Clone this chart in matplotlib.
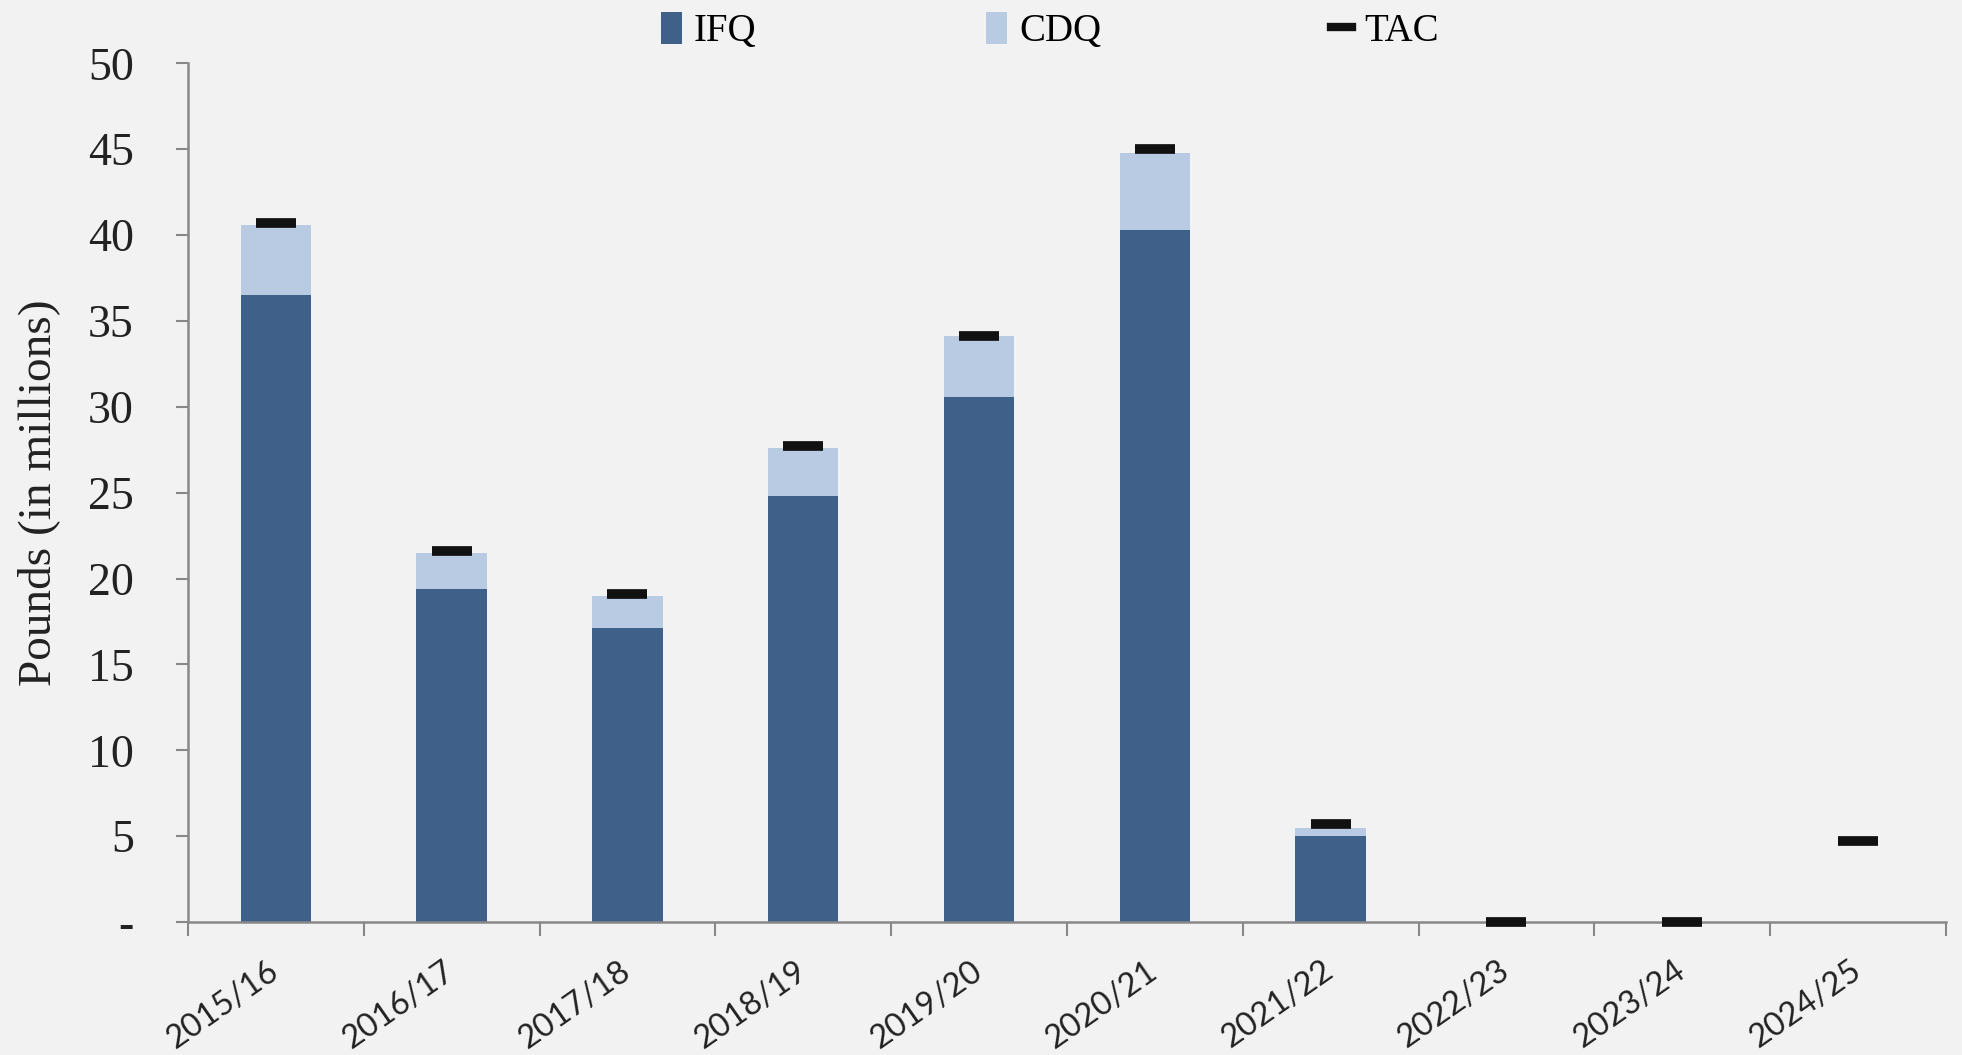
import matplotlib.pyplot as plt
import numpy as np
from matplotlib.patches import Patch
from matplotlib.lines import Line2D

seasons = ["2015/16", "2016/17", "2017/18", "2018/19", "2019/20",
           "2020/21", "2021/22", "2022/23", "2023/24", "2024/25"]
ifq = [36.5, 19.4, 17.1, 24.8, 30.6, 40.3, 5.0, 0, 0, 0]
cdq = [4.1, 2.1, 1.9, 2.8, 3.5, 4.5, 0.5, 0, 0, 0]
tac = [40.7, 21.6, 19.1, 27.7, 34.1, 45.0, 5.7, 0, 0, 4.7]
ytick_labels = ["-", "5", "10", "15", "20", "25", "30", "35", "40", "45", "50"]

ifq_color = "#3f6089"
cdq_color = "#b9cbe2"
bg = "#f3f2f2"
serif = "Liberation Serif"

fig = plt.figure(figsize=(19.62, 10.55), dpi=100, facecolor=bg)
ax = fig.add_axes([0.0958, 0.126, 0.896, 0.814])
ax.set_facecolor(bg)

x = np.arange(len(seasons))
ax.bar(x, ifq, width=0.4, color=ifq_color, zorder=2)
ax.bar(x, cdq, width=0.4, bottom=ifq, color=cdq_color, zorder=2)
ax.plot(x, tac, linestyle="none", marker="_", markersize=29,
        markeredgewidth=7, color="#111111", zorder=4, clip_on=False)

ax.set_xlim(-0.5, len(seasons) - 0.5)
ax.set_ylim(0, 50)

# y axis
ax.set_yticks(np.arange(0, 51, 5))
ax.set_yticklabels(ytick_labels, fontsize=33, fontfamily=serif, color="#222222")
ax.tick_params(axis="y", length=9, width=1.5, color="#888888", pad=30)
ax.set_ylabel("Pounds (in millions)", fontsize=34, fontfamily=serif,
              color="#222222", labelpad=20)

# x axis: ticks between categories, labels centred
ax.set_xticks(x)
ax.set_xticklabels(seasons, rotation=35, ha="right", va="center",
                   rotation_mode="anchor", fontsize=23.5, fontfamily="Lato",
                   color="#222222")
ax.tick_params(axis="x", which="major", length=0, pad=33)
ax.set_xticks(np.arange(-0.5, len(seasons)), minor=True)
ax.tick_params(axis="x", which="minor", length=10, width=1.5, color="#888888")

for side in ["top", "right"]:
    ax.spines[side].set_visible(False)
for side in ["left", "bottom"]:
    ax.spines[side].set_color("#888888")
    ax.spines[side].set_linewidth(1.8)

handles = [Patch(facecolor=ifq_color, label="IFQ"),
           Patch(facecolor=cdq_color, label="CDQ"),
           Line2D([0], [0], color="#111111", lw=6, label="TAC")]
fig.legend(handles=handles, loc="upper center", bbox_to_anchor=(0.535, 1.022),
           ncol=3, frameon=False, prop={"family": serif, "size": 28},
           handlelength=0.55, handleheight=0.9, handletextpad=0.3,
           columnspacing=5.9)

fig.savefig("out.png", dpi=100, facecolor=bg)
